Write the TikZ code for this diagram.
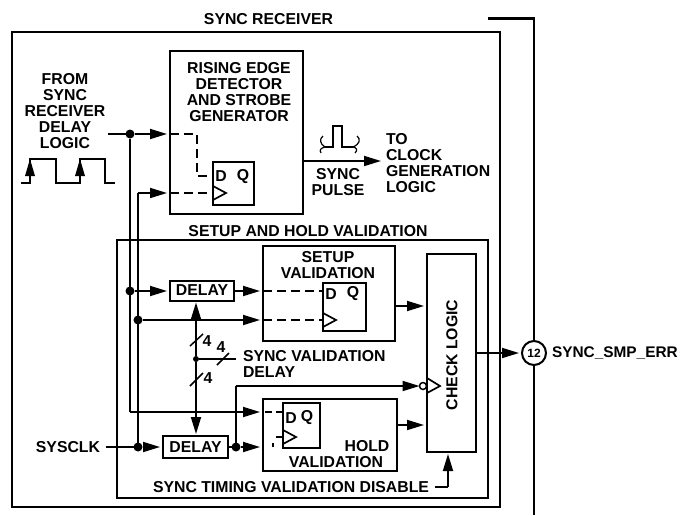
\documentclass[tikz,border=0pt]{standalone}
\usepackage{fontspec}
\setmainfont{Liberation Sans}
\usetikzlibrary{calc,arrows.meta}

\begin{document}
\begin{tikzpicture}[
  x=1pt,y=-1pt,
  every node/.style={inner sep=0pt,outer sep=0pt,font=\fontsize{15.8}{16}\selectfont\bfseries},
  lbl/.style={align=center},
  lbll/.style={align=left,anchor=west},
  blk/.style={draw=black,line width=2pt,rectangle},
  ffbox/.style={draw=black,line width=1.7pt,rectangle},
  dot/.style={circle,fill=black,minimum size=9pt},
  smalldot/.style={circle,fill=black,minimum size=6pt},
  wire/.style={line width=1.8pt},
  arr/.style={-{Triangle[length=17pt,width=10pt]},line width=1.8pt,shorten >=3pt},
  dsh/.style={line width=1.8pt,dash pattern=on 9pt off 5pt},
  clk/.style={line width=1.7pt,line join=miter},
  slash/.style={line width=1.5pt}
]
\useasboundingbox (0,0) rectangle (681,515);
% ================= outer frame and bus =================
\node[blk,minimum width=488pt,minimum height=475pt] (recv) at (256,269.5) {};
\node[lbl] (recvlbl) at (268.5,19) {SYNC RECEIVER};
\node[draw=black,line width=2pt,circle,minimum size=24pt,fill=white,
  font=\fontsize{12}{12}\selectfont\bfseries] (errpin) at (534,353) {12};
\node[lbll,font=\fontsize{15.4}{16}\selectfont\bfseries] (errlbl) at (552,353) {SYNC\_SMP\_ERR};
\coordinate (busa) at (488,18.5);
\coordinate (busb) at (534,515);
\draw[line width=2.2pt] (busa) -| (errpin.north);
\draw[line width=2.2pt] (errpin.south) -- (busb);
% ================= rising edge detector =================
\node[blk,minimum width=133pt,minimum height=163pt] (risebox) at (236.5,132.5) {};
\node[lbl] (riselbl) at (239,92) {RISING EDGE\\DETECTOR\\AND STROBE\\GENERATOR};
\node[ffbox,minimum width=41pt,minimum height=43pt] (ff1) at (233.5,183.5) {};
\node (ff1d) at (221,176.5) {D};
\node (ff1q) at (243,176.5) {Q};
\draw[clk] (ff1.west |- 0,186) -- (226,193) -- (ff1.west |- 0,200);
\node[lbl] (fromlbl) at (65,111) {FROM\\SYNC\\RECEIVER\\DELAY\\LOGIC};
\coordinate (ina) at (108,134);
\node[dot] (ind) at (130,134) {};
\coordinate (inb) at (197,134);
\coordinate (inc) at (197,176);
\draw[wire] (ina) -- (ind);
\draw[arr] (ind) -- (risebox.west |- ind);
\draw[dsh] (risebox.west |- ind) -- (inb) -- (inc) -- (ff1.west |- inc);
\coordinate (clka) at (138,193);
\draw[arr] (clka) -- (risebox.west |- clka);
\draw[dsh] (risebox.west |- clka) -- (ff1.west |- clka);
% waveform under the input label
\draw[wire] (21,183) -- (30,183) -- (30,159) -- (56,159) -- (56,183) -- (80,183)
  -- (80,159) -- (105,159) -- (105,183) -- (115,183);
\foreach \wx in {30,80}
  \fill (\wx,159) -- (\wx+5,176) -- (\wx-5,176) -- cycle;
% ================= sync pulse output =================
\coordinate (pulseo) at (384,161);
\draw[arr] (risebox.east |- pulseo) -- (pulseo);
\draw[wire] (325,147) -- (333,147) -- (333,126) -- (342,126) -- (342,147) -- (353,147);
\draw[line width=1.2pt] (323,136) .. controls (319,139) and (320,144) .. (325,147)
  .. controls (321,148) and (319,150) .. (321,153);
\draw[line width=1.2pt] (357,136) .. controls (361,139) and (360,144) .. (353,147)
  .. controls (357,148) and (358,150) .. (355,153);
\node[lbl] (pulselbl) at (338,182.5) {SYNC\\PULSE};
\node[lbll] (clklbl) at (386,163) {TO\\CLOCK\\GENERATION\\LOGIC};
% ================= setup and hold validation =================
\node[blk,line width=1.7pt,minimum width=371pt,minimum height=258pt] (valbox) at (302.5,369) {};
\node[lbl] (vallbl) at (308,231) {SETUP AND HOLD VALIDATION};
\node[blk,minimum width=49pt,minimum height=198pt] (check) at (451.5,353) {};
\node[rotate=90] (checklbl) at (452,355) {CHECK LOGIC};
\coordinate (check0) at (476,353);
\draw[arr] (check0) -- (errpin.west);
% setup block
\node[blk,minimum width=132pt,minimum height=95pt] (setup) at (329,293.5) {};
\node[lbl] (setuplbl) at (328,265) {SETUP\\VALIDATION};
\node[ffbox,minimum width=43pt,minimum height=48pt] (ff2) at (344.5,307) {};
\node (ff2d) at (331,294) {D};
\node (ff2q) at (353,294) {Q};
\draw[clk] (ff2.west |- 0,313) -- (336,320) -- (ff2.west |- 0,327);
\coordinate (setupo) at (395,306);
\draw[arr] (setupo) -- (check.west |- setupo);
% hold block
\node[blk,minimum width=134pt,minimum height=72pt] (hold) at (330,435) {};
\node (holdlbl) at (367,446) {HOLD};
\node (holdlblb) at (336,462) {VALIDATION};
\node[ffbox,minimum width=37pt,minimum height=45pt] (ff3) at (301.5,425.5) {};
\node (ff3d) at (291,418) {D};
\node (ff3q) at (307,418) {Q};
\draw[clk] (ff3.west |- 0,430) -- (296,437) -- (ff3.west |- 0,444);
\coordinate (holdo) at (397,425);
\draw[arr] (holdo) -- (check.west |- holdo);
% delay blocks
\node[blk,minimum width=64pt,minimum height=20pt] (dly1) at (202,290.5) {DELAY};
\node[blk,minimum width=65pt,minimum height=22pt] (dly2) at (195.5,447) {DELAY};
\node[lbl] (sysclk) at (68,447) {SYSCLK};
\coordinate (clkin) at (106,447);
\node[dot] (dsys) at (138,447) {};
\node[dot] (dsync) at (130,291) {};
\node[dot] (dclk) at (138,320) {};
\node[dot] (dout) at (236,447) {};
\coordinate (dtop) at (130,412);
% long verticals
\draw[wire] (ind) -- (dtop);
\draw[arr] (dtop) -- (hold.west |- dtop);
\draw[wire] (dsys) -- (clka);
\draw[wire] (clkin) -- (dsys);
\draw[arr] (dsys) -- (dly2.west |- dsys);
\draw[arr] (dsync) -- (dly1.west |- dsync);
\draw[arr] (dly1.east |- dsync) -- (setup.west |- dsync);
\draw[arr] (dclk) -- (setup.west |- dclk);
\draw[dsh] (setup.west |- dsync) -- (ff2.west |- dsync);
\draw[dsh] (setup.west |- dclk) -- (ff2.west |- dclk);
\draw[wire] (dly2.east |- dout) -- (dout);
\draw[arr] (dout) -- (hold.west |- dout);
\coordinate (hda) at (265,412);
\coordinate (hdb) at (272,412);
\coordinate (hdc) at (276,412);
\draw[wire] (hda) -- (hdb);
\draw[wire] (hdc) -- (ff3.west |- hdc);
\coordinate (hclka) at (273,447);
\coordinate (hclkb) at (273,443);
\coordinate (hclkc) at (276,437);
\draw[wire] (hclka) -- (hclkb);
\draw[wire] (hclkc) -- (ff3.west |- hclkc);
% inverted clock into check logic
\node[draw=black,line width=1.5pt,circle,minimum size=7pt] (inv) at (423,386) {};
\coordinate (invc) at (236,386);
\draw[wire] (dout) -- (invc);
\draw[arr,shorten >=0pt] (invc) -- (inv.west);
\draw[clk] (check.west |- 0,378) -- (440,386) -- (check.west |- 0,393);
% sync validation delay bus
\node[smalldot] (vd) at (196,359) {};
\coordinate (vdout) at (236,359);
\draw[wire] (vd) -- (vdout);
\draw[arr,shorten >=2pt] (vd) -- (dly1.south -| vd);
\draw[arr,shorten >=2pt] (vd) -- (dly2.north -| vd);
\draw[slash] (190,346) -- (203,334);
\draw[slash] (190,386) -- (203,373);
\draw[slash] (217,365) -- (229,353);
\node (bus4a) at (207,341) {4};
\node (bus4b) at (221,347) {4};
\node (bus4c) at (208,378) {4};
\node[lbll] (vdlbl) at (243,363.5) {SYNC VALIDATION\\DELAY};
% disable input
\node (dislbl) at (291,487) {SYNC TIMING VALIDATION DISABLE};
\coordinate (disa) at (435,487);
\coordinate (disb) at (448,487);
\draw[wire] (disa) -- (disb);
\draw[arr,shorten >=2pt] (disb) -- (check.south -| disb);
\end{tikzpicture}
\end{document}
